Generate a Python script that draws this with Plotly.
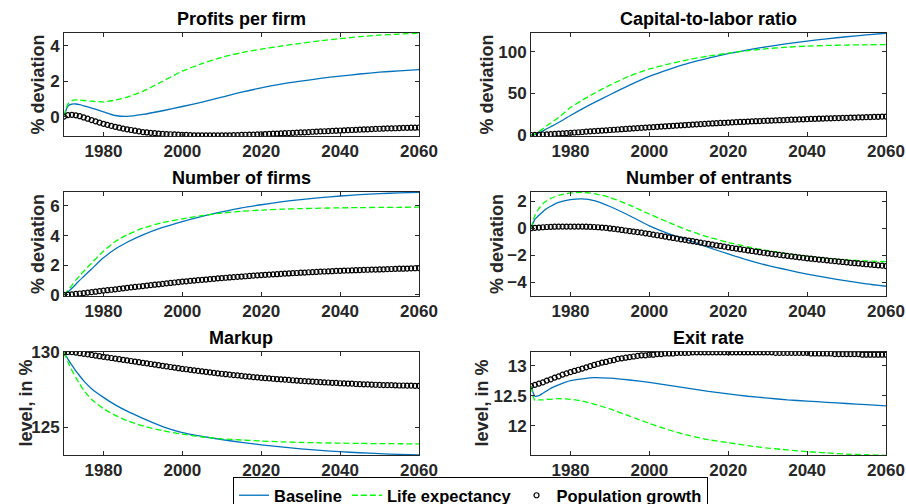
import plotly.graph_objects as go

# ---------------- data ----------------
years = list(range(1970, 2061))  # annual grid for population-growth markers
line_years = [1970, 1971, 1972, 1973, 1974, 1975, 1977, 1980, 1983, 1986, 1990,
              1995, 2000, 2005, 2010, 2015, 2020, 2025, 2030, 2035, 2040, 2045,
              2050, 2055, 2060]

# Profits per firm (% deviation)
profits_base = [0, 0.60, 0.70, 0.71, 0.67, 0.61, 0.48, 0.27, 0.06, 0.01, 0.12,
                0.33, 0.57, 0.82, 1.10, 1.38, 1.62, 1.83, 2.00, 2.16, 2.29, 2.41,
                2.51, 2.59, 2.66]
profits_life = [0, 0.72, 0.90, 0.94, 0.93, 0.91, 0.87, 0.83, 0.93, 1.10, 1.43,
                2.00, 2.57, 3.00, 3.35, 3.62, 3.82, 3.99, 4.14, 4.29, 4.41, 4.52,
                4.61, 4.67, 4.72]
profits_pop = [0.00, 0.08, 0.10, 0.07, 0.02, -0.05, -0.12, -0.20, -0.27, -0.34,
               -0.41, -0.47, -0.53, -0.58, -0.63, -0.68, -0.72, -0.76, -0.80, -0.84,
               -0.88, -0.90, -0.92, -0.94, -0.96, -0.98, -0.99, -1.00, -1.01, -1.02,
               -1.03, -1.04, -1.05, -1.06, -1.06, -1.07, -1.07, -1.07, -1.07, -1.07,
               -1.07, -1.06, -1.06, -1.05, -1.05, -1.04, -1.03, -1.02, -1.02, -1.01,
               -1.00, -0.99, -0.98, -0.97, -0.96, -0.95, -0.94, -0.93, -0.92, -0.91,
               -0.90, -0.89, -0.88, -0.86, -0.85, -0.84, -0.83, -0.82, -0.81, -0.80,
               -0.79, -0.78, -0.77, -0.76, -0.75, -0.74, -0.73, -0.72, -0.71, -0.70,
               -0.69, -0.68, -0.67, -0.67, -0.66, -0.65, -0.64, -0.64, -0.63, -0.63,
               -0.62]

# Capital-to-labor ratio (% deviation)
kl_base = [0, 0.5, 2.5, 5.0, 7.5, 10.0, 15.0, 23.5, 31.5, 39.0, 48.5, 60.0,
           70.5, 79.0, 86.5, 92.5, 98.0, 102.5, 106.5, 110.0, 113.0, 115.8,
           118.3, 120.5, 122.5]
kl_life = [0, 1.0, 4.0, 7.5, 11.0, 14.5, 21.0, 33.0, 42.0, 50.0, 60.0, 71.0,
           79.5, 85.5, 90.8, 95.0, 98.5, 101.5, 104.0, 105.8, 107.0, 107.8,
           108.3, 108.6, 108.8]
kl_pop = [0.0, 0.2, 0.4, 0.6, 0.8, 1.1, 1.4, 1.7, 2.0, 2.3,
          2.6, 3.0, 3.3, 3.6, 4.0, 4.3, 4.6, 5.0, 5.3, 5.6,
          6.0, 6.3, 6.6, 7.0, 7.3, 7.6, 8.0, 8.3, 8.6, 8.9,
          9.2, 9.5, 9.9, 10.2, 10.5, 10.8, 11.1, 11.4, 11.7, 12.0,
          12.3, 12.6, 12.9, 13.1, 13.4, 13.7, 13.9, 14.2, 14.5, 14.7,
          15.0, 15.2, 15.5, 15.7, 15.9, 16.2, 16.4, 16.6, 16.8, 17.0,
          17.2, 17.4, 17.6, 17.8, 18.0, 18.2, 18.4, 18.6, 18.8, 18.9,
          19.1, 19.3, 19.5, 19.6, 19.8, 20.0, 20.1, 20.3, 20.4, 20.6,
          20.7, 20.9, 21.0, 21.2, 21.3, 21.5, 21.6, 21.8, 21.9, 22.1,
          22.2]

# Number of firms (% deviation)
firms_base = [0, 0.20, 0.45, 0.72, 1.00, 1.25, 1.75, 2.50, 3.10, 3.55, 4.05,
              4.55, 4.95, 5.30, 5.60, 5.87, 6.08, 6.27, 6.43, 6.56, 6.67, 6.76,
              6.83, 6.88, 6.92]
firms_life = [0, 0.30, 0.65, 1.00, 1.30, 1.60, 2.15, 2.95, 3.60, 4.05, 4.50,
              4.88, 5.13, 5.35, 5.52, 5.64, 5.72, 5.78, 5.82, 5.85, 5.87, 5.89,
              5.90, 5.91, 5.92]
firms_pop = [0.00, 0.02, 0.04, 0.07, 0.10, 0.13, 0.16, 0.19, 0.22, 0.26,
             0.29, 0.32, 0.35, 0.38, 0.41, 0.45, 0.48, 0.51, 0.54, 0.57,
             0.60, 0.63, 0.66, 0.69, 0.72, 0.75, 0.78, 0.81, 0.84, 0.87,
             0.90, 0.92, 0.95, 0.97, 1.00, 1.02, 1.04, 1.07, 1.09, 1.12,
             1.14, 1.16, 1.18, 1.20, 1.22, 1.24, 1.26, 1.28, 1.30, 1.32,
             1.34, 1.36, 1.37, 1.39, 1.40, 1.42, 1.44, 1.45, 1.47, 1.48,
             1.50, 1.51, 1.53, 1.54, 1.55, 1.57, 1.58, 1.59, 1.60, 1.62,
             1.63, 1.64, 1.65, 1.66, 1.67, 1.68, 1.69, 1.70, 1.71, 1.71,
             1.72, 1.73, 1.74, 1.75, 1.76, 1.77, 1.77, 1.78, 1.79, 1.80,
             1.81]

# Number of entrants (% deviation)
entr_base = [0, 0.67, 0.95, 1.22, 1.45, 1.62, 1.90, 2.10, 2.16, 2.03, 1.60,
             0.92, 0.17, -0.42, -0.90, -1.42, -1.90, -2.35, -2.75, -3.08, -3.38,
             -3.65, -3.88, -4.10, -4.28]
entr_life = [0, 0.95, 1.45, 1.80, 2.02, 2.20, 2.42, 2.60, 2.64, 2.55, 2.27,
             1.70, 1.05, 0.42, -0.18, -0.65, -1.05, -1.38, -1.65, -1.88, -2.07,
             -2.22, -2.34, -2.42, -2.47]
entr_pop = [0.00, 0.03, 0.05, 0.07, 0.09, 0.10, 0.11, 0.12, 0.12, 0.12,
            0.12, 0.12, 0.12, 0.12, 0.11, 0.10, 0.09, 0.07, 0.05, 0.02,
            -0.02, -0.05, -0.09, -0.13, -0.17, -0.21, -0.25, -0.29, -0.33, -0.38,
            -0.42, -0.47, -0.52, -0.57, -0.62, -0.67, -0.72, -0.77, -0.82, -0.86,
            -0.91, -0.96, -1.01, -1.06, -1.11, -1.16, -1.21, -1.26, -1.31, -1.36,
            -1.41, -1.46, -1.50, -1.55, -1.59, -1.64, -1.68, -1.72, -1.77, -1.81,
            -1.85, -1.89, -1.93, -1.97, -2.00, -2.04, -2.08, -2.11, -2.15, -2.18,
            -2.22, -2.25, -2.28, -2.31, -2.34, -2.37, -2.40, -2.43, -2.46, -2.49,
            -2.52, -2.55, -2.57, -2.60, -2.63, -2.66, -2.68, -2.71, -2.74, -2.76,
            -2.79]

# Markup (level, in %)
markup_base = [130.0, 129.55, 129.14, 128.76, 128.42, 128.10, 127.58, 127.00,
               126.50, 126.08, 125.60, 125.05, 124.65, 124.40, 124.19, 124.0,
               123.84, 123.7, 123.57, 123.47, 123.38, 123.31, 123.25, 123.2, 123.16]
markup_life = [130.0, 129.36, 128.80, 128.32, 127.88, 127.48, 126.86, 126.25,
               125.80, 125.45, 125.10, 124.78, 124.55, 124.36, 124.24, 124.16,
               124.09, 124.04, 124.00, 123.97, 123.95, 123.93, 123.92, 123.91, 123.90]
markup_pop = [130.00, 130.02, 130.01, 129.98, 129.94, 129.90, 129.86, 129.82, 129.78, 129.74,
              129.70, 129.66, 129.62, 129.58, 129.54, 129.50, 129.46, 129.42, 129.38, 129.34,
              129.30, 129.26, 129.22, 129.18, 129.14, 129.10, 129.06, 129.02, 128.98, 128.94,
              128.90, 128.87, 128.83, 128.80, 128.76, 128.73, 128.70, 128.66, 128.63, 128.60,
              128.57, 128.54, 128.51, 128.48, 128.46, 128.43, 128.40, 128.38, 128.35, 128.33,
              128.30, 128.28, 128.26, 128.24, 128.22, 128.20, 128.18, 128.16, 128.14, 128.12,
              128.10, 128.08, 128.07, 128.05, 128.03, 128.02, 128.00, 127.99, 127.97, 127.96,
              127.94, 127.93, 127.92, 127.91, 127.89, 127.88, 127.87, 127.86, 127.85, 127.84,
              127.83, 127.82, 127.81, 127.81, 127.80, 127.79, 127.79, 127.78, 127.78, 127.77,
              127.77]

# Exit rate (level, in %)
exit_base = [12.66, 12.49, 12.50, 12.54, 12.58, 12.62, 12.68, 12.75, 12.78, 12.80,
             12.79, 12.76, 12.72, 12.67, 12.62, 12.57, 12.53, 12.49, 12.46, 12.43,
             12.41, 12.39, 12.37, 12.35, 12.33]
exit_life = [12.66, 12.42, 12.43, 12.43, 12.44, 12.44, 12.45, 12.44, 12.41, 12.36,
             12.28, 12.16, 12.04, 11.93, 11.84, 11.77, 11.72, 11.67, 11.63, 11.60,
             11.57, 11.55, 11.53, 11.52, 11.51]
exit_pop = [12.66, 12.68, 12.70, 12.72, 12.75, 12.77, 12.80, 12.82, 12.85, 12.87,
            12.89, 12.91, 12.93, 12.95, 12.97, 12.99, 13.01, 13.03, 13.05, 13.06,
            13.08, 13.09, 13.11, 13.12, 13.13, 13.14, 13.15, 13.16, 13.17, 13.17,
            13.18, 13.18, 13.19, 13.19, 13.20, 13.20, 13.20, 13.21, 13.21, 13.21,
            13.21, 13.22, 13.22, 13.22, 13.22, 13.22, 13.22, 13.22, 13.22, 13.22,
            13.22, 13.22, 13.22, 13.22, 13.22, 13.22, 13.22, 13.22, 13.22, 13.22,
            13.22, 13.22, 13.21, 13.21, 13.21, 13.21, 13.21, 13.21, 13.21, 13.21,
            13.21, 13.20, 13.20, 13.20, 13.20, 13.20, 13.20, 13.19, 13.19, 13.19,
            13.19, 13.19, 13.19, 13.19, 13.18, 13.18, 13.18, 13.18, 13.18, 13.18,
            13.18]

titles = ["Profits per firm", "Capital-to-labor ratio", "Number of firms",
          "Number of entrants", "Markup", "Exit rate"]
ylabels = ["% deviation", "% deviation", "% deviation", "% deviation",
           "level, in %", "level, in %"]
series_names = ["Baseline", "Life expectancy", "Population growth"]
x_ticks = [1980, 2000, 2020, 2040, 2060]
y_ticks = [[0, 2, 4], [0, 50, 100], [0, 2, 4, 6], [-4, -2, 0, 2], [125, 130],
           [12, 12.5, 13]]
y_ranges = [[-1.1, 4.73], [-1.2, 122.8], [-0.07, 6.94], [-5.0, 2.67],
            [123.16, 130.02], [11.515, 13.225]]

panel_data = [
    (profits_base, profits_life, profits_pop),
    (kl_base, kl_life, kl_pop),
    (firms_base, firms_life, firms_pop),
    (entr_base, entr_life, entr_pop),
    (markup_base, markup_life, markup_pop),
    (exit_base, exit_life, exit_pop),
]

# ---------------- layout geometry (pixels) ----------------
W, H = 906, 504
col_px = [(64, 419), (531, 886)]
row_px = [(33, 136), (192, 296), (352, 455)]
ylabel_x = [[38, 487], [38, 497], [25, 481]]

FONT = "Liberation Sans, Arial, Helvetica, sans-serif"
AXC = "#262626"
BLUE = "#0072BD"
GREEN = "#00FF00"

fig = go.Figure()
layout = dict(
    width=W, height=H,
    margin=dict(l=0, r=0, t=0, b=0, autoexpand=False),
    paper_bgcolor="white", plot_bgcolor="white",
    font=dict(family=FONT, size=17, color=AXC, weight="bold"),
    showlegend=True,
    annotations=[],
)

for i in range(6):
    r, c = divmod(i, 2)
    n = i + 1
    xa = "x" if n == 1 else f"x{n}"
    ya = "y" if n == 1 else f"y{n}"
    base, life, pop = panel_data[i]
    fig.add_trace(go.Scatter(x=line_years, y=base, xaxis=xa, yaxis=ya, mode="lines",
                             line=dict(color=BLUE, width=1.3, shape="spline", smoothing=0.6),
                             name=series_names[0], showlegend=(i == 0), legendrank=1))
    fig.add_trace(go.Scatter(x=line_years, y=life, xaxis=xa, yaxis=ya, mode="lines",
                             line=dict(color=GREEN, width=1.3, dash="6px,3px", shape="spline", smoothing=0.6),
                             name=series_names[1], showlegend=(i == 0), legendrank=2))
    fig.add_trace(go.Scatter(x=years, y=pop, xaxis=xa, yaxis=ya, mode="markers",
                             marker=dict(symbol="circle-open", size=5, color="black",
                                         line=dict(width=1.2, color="black")),
                             name=series_names[2], showlegend=(i == 0), legendrank=3))

    x0, x1 = col_px[c]
    y0, y1 = row_px[r]
    common = dict(showline=True, linecolor=AXC, linewidth=1, mirror="ticks",
                  ticks="inside", ticklen=4, tickcolor=AXC, showgrid=False,
                  zeroline=False, tickfont=dict(family=FONT, size=17, color=AXC, weight="bold"))
    layout["xaxis" if n == 1 else f"xaxis{n}"] = dict(
        domain=[x0 / W, x1 / W], range=[1970, 2060], tickvals=x_ticks,
        anchor=ya, **common)
    layout["yaxis" if n == 1 else f"yaxis{n}"] = dict(
        domain=[1 - y1 / H, 1 - y0 / H], range=y_ranges[i], tickvals=y_ticks[i],
        anchor=xa, **common)
    # panel title
    layout["annotations"].append(dict(
        text=titles[i], x=(x0 + x1) / 2 / W, y=1 - (y0 - 2) / H, xref="paper", yref="paper",
        xanchor="center", yanchor="bottom", showarrow=False,
        font=dict(family=FONT, size=18, color="black", weight="bold")))
    # y-axis label
    layout["annotations"].append(dict(
        text=ylabels[i], x=ylabel_x[r][c] / W, y=1 - (y0 + y1) / 2 / H,
        xref="paper", yref="paper", xanchor="center", yanchor="middle",
        textangle=-90, showarrow=False,
        font=dict(family=FONT, size=18, color=AXC, weight="bold")))

layout["legend"] = dict(
    orientation="h", x=470.5 / W, xanchor="center", y=1 - 477 / H, yanchor="top",
    bordercolor="black", borderwidth=1, bgcolor="white",
    font=dict(family=FONT, size=16.5, color="black", weight="bold"),
    itemwidth=30, tracegroupgap=0, traceorder="normal")

fig.update_layout(**layout)
fig.write_html("out.html", config={"displayModeBar": False},
               post_script="document.body.style.margin='0';document.body.style.padding='0';"
                           "document.body.style.overflow='hidden';"
                           "document.documentElement.style.overflow='hidden';")
